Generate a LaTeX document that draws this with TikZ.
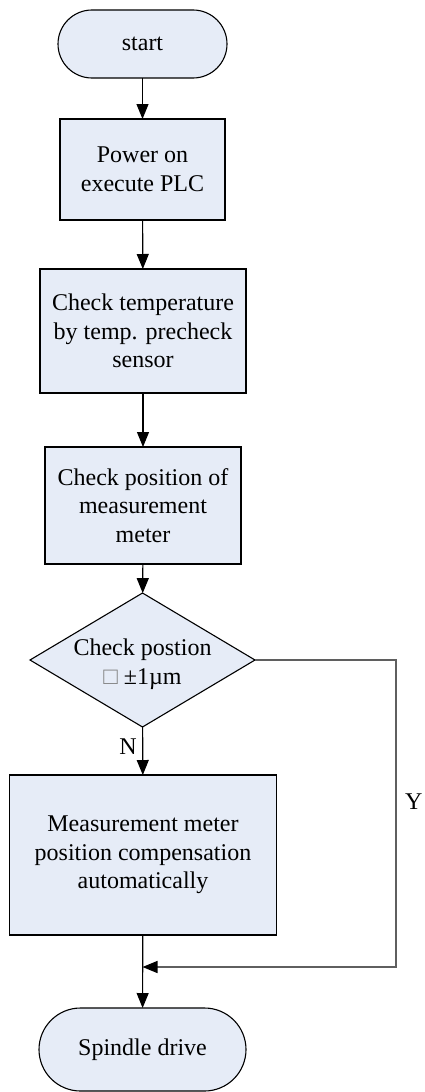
\documentclass[tikz,border=0pt]{standalone}
\usepackage{fontspec}
\setmainfont{Liberation Serif}
\usetikzlibrary{shapes.geometric,arrows.meta}
\definecolor{boxfill}{RGB}{230,236,247}
\definecolor{loopgray}{RGB}{95,95,95}
\begin{document}
\begin{tikzpicture}[x=1pt,y=-1pt,
  font=\fontsize{24}{28.5}\selectfont,
  every node/.style={inner sep=0pt,outer sep=0pt},
  proc/.style={draw=black,fill=boxfill,line width=1.1pt,rectangle,align=center},
  term/.style={draw=black,fill=boxfill,line width=1.1pt,rectangle,align=center},
  decide/.style={draw=black,fill=boxfill,line width=1.1pt,diamond},
  flow/.style={line width=1.1pt,-{Triangle[length=15pt,width=12pt]}},
  back/.style={line width=1.3pt,draw=loopgray,-{Triangle[length=15pt,width=12pt,color=black]}}]
\useasboundingbox (0,0) rectangle (424,1092);

\node[term,minimum width=169pt,minimum height=68pt,rounded corners=34pt] (start) at (142.5,44) {start};
\node[proc,minimum width=165pt,minimum height=101pt] (p1) at (142.5,169.5) {Power on\\execute PLC};
\node[proc,minimum width=206pt,minimum height=124pt] (p2) at (143,331) {Check temperature\\by temp. precheck\\sensor};
\node[proc,minimum width=196pt,minimum height=117pt] (p3) at (143,505.5) {Check position of\\measurement\\meter};
\node[decide,minimum width=225pt,minimum height=134pt] (dec) at (142.5,660) {};
\node[align=center] (dectext) at (142.5,664) {Check postion\\{\color{gray}□} ±1µm};
\node[proc,minimum width=267pt,minimum height=160pt] (p4) at (143,855) {Measurement meter\\position compensation\\automatically};
\node[term,minimum width=207pt,minimum height=83pt,rounded corners=41.5pt] (stop) at (142.5,1049.5) {Spindle drive};

\coordinate (corner1) at (396,660);
\coordinate (corner2) at (396,967);
\coordinate (merge) at (142.5,967);

\draw[flow] (start) -- (p1);
\draw[flow] (p1) -- (p2);
\draw[flow] (p2) -- (p3);
\draw[flow] (p3) -- (dec);
\draw[flow] (dec) -- node[pos=0.42,left=6pt] (nlabel) {N} (p4);
\draw[flow] (p4) -- (stop);
\draw[back] (dec.east) -- (corner1) -- node[pos=0.46,right=9pt] (ylabel) {Y} (corner2) -- (merge);
\end{tikzpicture}
\end{document}
